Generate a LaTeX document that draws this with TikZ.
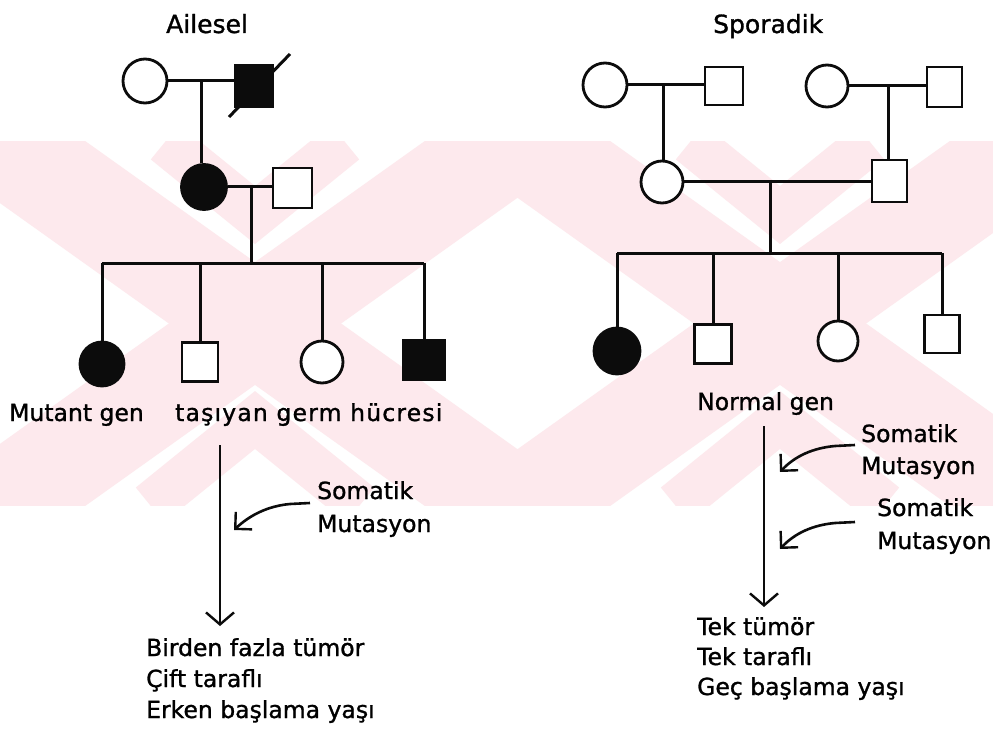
\documentclass[tikz,border=0pt]{standalone}
\usepackage{fontspec}
\setmainfont{DejaVu Sans}[BoldFont=DejaVu Sans, BoldFeatures={FakeBold=1.2}]
\newfontfamily\widefont{DejaVu Sans}[LetterSpace=5, BoldFont=DejaVu Sans, BoldFeatures={FakeBold=1.2, LetterSpace=5}]
\usetikzlibrary{arrows.meta}
\definecolor{wm}{RGB}{253,233,237}
\definecolor{ink}{RGB}{12,12,12}
\begin{document}
\begin{tikzpicture}[x=1pt,y=-1pt,
  ped/.style={line width=3pt, draw=ink},
  fem/.style={circle, draw=ink, line width=2.8pt, inner sep=0pt, fill=white},
  mal/.style={rectangle, draw=ink, line width=2.8pt, inner sep=0pt, fill=white},
  aff/.style={fill=ink},
  lbl/.style={anchor=base west, inner sep=0pt, font=\fontsize{23.5}{27}\selectfont\bfseries},
  ttl/.style={anchor=base west, inner sep=0pt, font=\fontsize{25}{30}\selectfont\bfseries},
  flow/.style={line width=2.6pt, draw=ink, -{Straight Barb[length=12pt,width=28pt,line width=2.4pt]}},
  mut/.style={line width=2.6pt, draw=ink, -{Straight Barb[length=12pt,width=24pt,line width=2.4pt]}},
  band/.style={draw=wm, line width=100pt},
  chev/.style={draw=wm, line width=45pt, line join=miter},
]
\useasboundingbox (0,0) rectangle (993,730);
\fill[white] (0,0) rectangle (993,730);
% watermark
\begin{scope}
  \clip (0,142) rectangle (993,505);
  \draw[band] (-102,69) -- (612,578);
  \draw[band] (612,69) -- (-102,578);
  \draw[chev] (165,142) -- (255,215) -- (345,142);
  \draw[chev] (150,505) -- (255,420) -- (360,505);
  \draw[band] (423,69) -- (1137,578);
  \draw[band] (1137,69) -- (423,578);
  \draw[chev] (690,142) -- (780,215) -- (870,142);
  \draw[chev] (675,505) -- (780,420) -- (885,505);
\end{scope}
% titles
\node[ttl] (tA) at (166,33) {Ailesel};
\node[ttl] (tS) at (713,33) {Sporadik};
% ---------- left pedigree ----------
\node[fem, minimum size=44pt] (a1) at (145,81) {};
\draw[ped] (229,117) -- (290,54);
\node[mal, aff, minimum width=38pt, minimum height=42pt] (a2) at (254,86) {};
\node[fem, aff, minimum size=45pt] (b1) at (204,187) {};
\node[mal, minimum width=39pt, minimum height=40pt] (b2) at (292.5,188) {};
\node[fem, aff, minimum size=44pt] (c1) at (102,364) {};
\node[mal, minimum width=36pt, minimum height=39pt] (c2) at (200,362) {};
\node[fem, minimum size=42pt] (c3) at (322,362) {};
\node[mal, aff, minimum width=42pt, minimum height=40pt] (c4) at (424,360) {};
\coordinate (a12) at (201,81);
\coordinate (b12) at (251,187);
\coordinate (sL) at (251,263);
\draw[ped] (a1.east) -- (a1.east -| a2.west);
\draw[ped] (a12) -- (a12 |- b1.north);
\draw[ped] (b1.east) -- (b1.east -| b2.west);
\draw[ped] (b12) -- (sL);
\draw[ped] (c1.north |- sL) -- (c4.north |- sL);
\foreach \n in {c1,c2,c3,c4} \draw[ped] (\n.north |- sL) -- (\n.north);
\node[lbl] (t1) at (9,421) {Mutant gen};
\node[lbl, font=\fontsize{23.5}{27}\widefont\bfseries] (t2) at (175,421) {taşıyan germ hücresi};
\coordinate (f1) at (220,445);
\coordinate (f2) at (220,626);
\draw[flow] (f1) -- (f2);
\node[lbl] (s1) at (317,499) {Somatik};
\node[lbl] (s1b) at (317,532) {Mutasyon};
\coordinate (m1s) at (310,503);
\coordinate (m1e) at (234,530);
\draw[mut] (m1s) -- (290,504) .. controls (268,506) and (250,515) .. (m1e);
\node[lbl] (r1) at (146,656) {Birden fazla tümör};
\node[lbl] (r2) at (146,687) {Çift taraflı};
\node[lbl] (r3) at (146,718) {Erken başlama yaşı};
% ---------- right pedigree ----------
\node[fem, minimum size=44pt] (p1) at (605,85) {};
\node[mal, minimum width=38pt, minimum height=38pt] (p2) at (724,86) {};
\node[fem, minimum size=42pt] (p3) at (827,86) {};
\node[mal, minimum width=35pt, minimum height=40pt] (p4) at (944.5,87) {};
\node[fem, minimum size=42pt] (q1) at (662,182) {};
\node[mal, minimum width=35pt, minimum height=42pt] (q2) at (889.5,181) {};
\node[fem, aff, minimum size=46pt] (d1) at (617,351) {};
\node[mal, minimum width=37pt, minimum height=39pt] (d2) at (713,344) {};
\node[fem, minimum size=40pt] (d3) at (838,341) {};
\node[mal, minimum width=35pt, minimum height=38pt] (d4) at (942,334) {};
\coordinate (p12) at (663,85);
\coordinate (p34) at (888,86);
\coordinate (q12) at (770,182);
\coordinate (sR) at (770,253);
\draw[ped] (p1.east) -- (p1.east -| p2.west);
\draw[ped] (p3.east) -- (p3.east -| p4.west);
\draw[ped] (p12) -- (p12 |- q1.north);
\draw[ped] (p34) -- (p34 |- q2.north);
\draw[ped] (q1.east) -- (q1.east -| q2.west);
\draw[ped] (q12) -- (sR);
\draw[ped] (d1.north |- sR) -- (d4.north |- sR);
\foreach \n in {d1,d2,d3,d4} \draw[ped] (\n.north |- sR) -- (\n.north);
\node[lbl] (ng) at (697,410) {Normal gen};
\coordinate (g1) at (764,426);
\coordinate (g2) at (764,607);
\draw[flow] (g1) -- (g2);
\node[lbl] (s2) at (861,442) {Somatik};
\node[lbl] (s2b) at (861,474) {Mutasyon};
\node[lbl] (s3) at (877,516) {Somatik};
\node[lbl] (s3b) at (877,549) {Mutasyon};
\coordinate (m2s) at (855,445);
\coordinate (m2e) at (780,472);
\coordinate (m3s) at (855,522);
\coordinate (m3e) at (780,549);
\draw[mut] (m2s) -- (835,446) .. controls (813,448) and (795,456) .. (m2e);
\draw[mut] (m3s) -- (835,523) .. controls (813,525) and (795,533) .. (m3e);
\node[lbl] (u1) at (697,635) {Tek tümör};
\node[lbl] (u2) at (697,665) {Tek taraflı};
\node[lbl] (u3) at (697,695) {Geç başlama yaşı};
\end{tikzpicture}
\end{document}
